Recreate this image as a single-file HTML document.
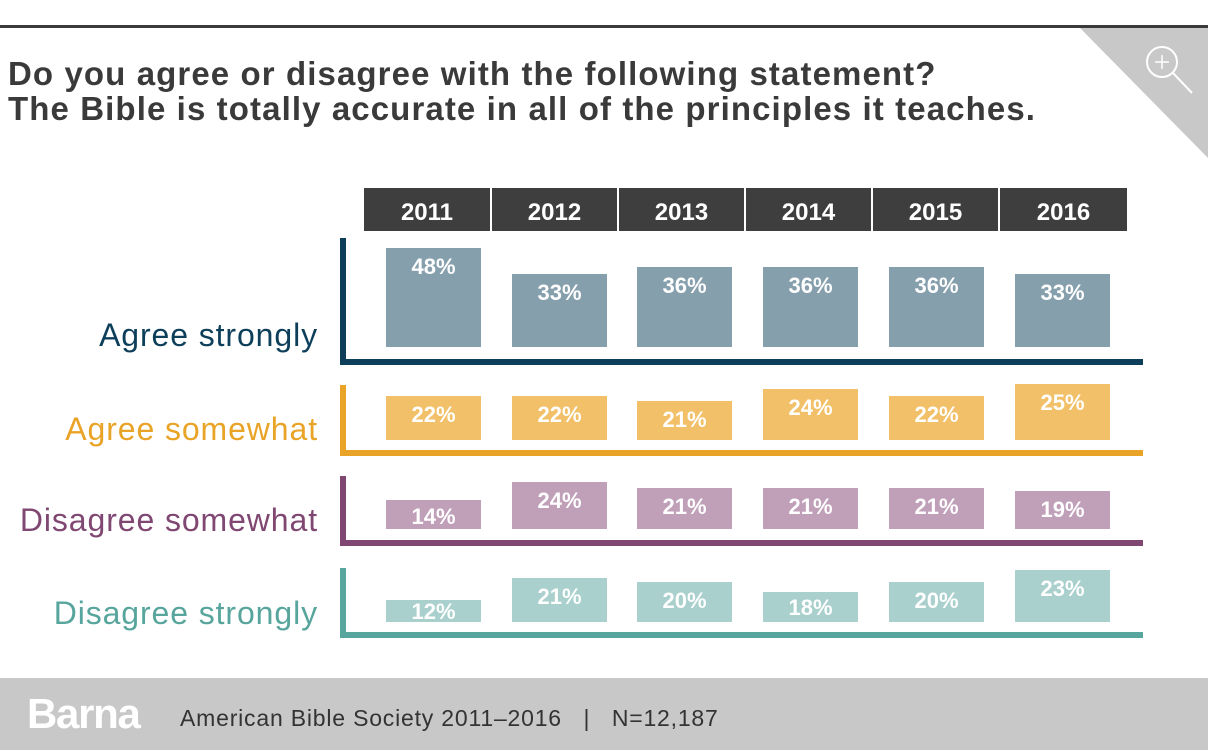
<!DOCTYPE html>
<html><head><meta charset="utf-8"><style>
body{margin:0;width:1208px;height:750px;background:#fff;overflow:hidden;position:relative;font-family:"Liberation Sans",sans-serif}
div{position:absolute}
.t{left:8px;font-size:33px;font-weight:bold;color:#3a3a3a;white-space:nowrap;letter-spacing:1.1px}
.yr{top:188px;height:43px;background:#3e3e3e;color:#fff;font-weight:bold;font-size:24px;text-align:center;line-height:50px}
.b{width:95px;color:#fff;font-weight:bold;font-size:22px;text-align:center;line-height:38px}
.lab{right:890px;font-size:32px;white-space:nowrap;text-align:right;letter-spacing:0.9px}
</style></head><body>
<div style="left:0;top:25px;width:1208px;height:3px;background:#3a3a3a"></div>
<svg style="position:absolute;left:0;top:0" width="1208" height="160"><polygon points="1080,28 1208,28 1208,158" fill="#c8c8c8"/><circle cx="1162" cy="62" r="15" fill="none" stroke="#fff" stroke-width="2"/><line x1="1173" y1="73" x2="1192" y2="93" stroke="#fff" stroke-width="2"/><line x1="1155" y1="62" x2="1169" y2="62" stroke="#fff" stroke-width="1.5"/><line x1="1162" y1="55" x2="1162" y2="69" stroke="#fff" stroke-width="1.5"/></svg>
<div class="t" style="top:55px">Do you agree or disagree with the following statement?</div>
<div class="t" style="top:90px">The Bible is totally accurate in all of the principles it teaches.</div>
<div class="yr" style="left:364px;width:126px">2011</div>
<div class="yr" style="left:492px;width:125px">2012</div>
<div class="yr" style="left:619px;width:125px">2013</div>
<div class="yr" style="left:746px;width:125px">2014</div>
<div class="yr" style="left:873px;width:125px">2015</div>
<div class="yr" style="left:1000px;width:127px">2016</div>

<div style="left:340px;top:238px;width:6px;height:127px;background:#0e3f5a"></div>
<div style="left:340px;top:359px;width:803px;height:6px;background:#0e3f5a"></div>
<div style="left:340px;top:385px;width:6px;height:71px;background:#e9a427"></div>
<div style="left:340px;top:450px;width:803px;height:6px;background:#e9a427"></div>
<div style="left:340px;top:476px;width:6px;height:70px;background:#7f4771"></div>
<div style="left:340px;top:540px;width:803px;height:6px;background:#7f4771"></div>
<div style="left:340px;top:568px;width:6px;height:70px;background:#57a59c"></div>
<div style="left:340px;top:632px;width:803px;height:6px;background:#57a59c"></div>

<div class="lab" style="top:317px;color:#0e3f5a">Agree strongly</div>
<div class="lab" style="top:411px;color:#e9a427">Agree somewhat</div>
<div class="lab" style="top:502px;color:#7f4771">Disagree somewhat</div>
<div class="lab" style="top:595px;color:#57a59c">Disagree strongly</div>

<div class="b" style="background:#869fad;left:386px;top:248px;height:99px">48%</div>
<div class="b" style="background:#869fad;left:512px;top:274px;height:73px">33%</div>
<div class="b" style="background:#869fad;left:637px;top:267px;height:80px">36%</div>
<div class="b" style="background:#869fad;left:763px;top:267px;height:80px">36%</div>
<div class="b" style="background:#869fad;left:889px;top:267px;height:80px">36%</div>
<div class="b" style="background:#869fad;left:1015px;top:274px;height:73px">33%</div>

<div class="b" style="background:#f1c068;left:386px;top:396px;height:44px">22%</div>
<div class="b" style="background:#f1c068;left:512px;top:396px;height:44px">22%</div>
<div class="b" style="background:#f1c068;left:637px;top:401px;height:39px">21%</div>
<div class="b" style="background:#f1c068;left:763px;top:389px;height:51px">24%</div>
<div class="b" style="background:#f1c068;left:889px;top:396px;height:44px">22%</div>
<div class="b" style="background:#f1c068;left:1015px;top:384px;height:56px">25%</div>

<div class="b" style="background:#c09fb8;left:386px;top:500px;height:29px;line-height:34px">14%</div>
<div class="b" style="background:#c09fb8;left:512px;top:482px;height:47px">24%</div>
<div class="b" style="background:#c09fb8;left:637px;top:488px;height:41px">21%</div>
<div class="b" style="background:#c09fb8;left:763px;top:488px;height:41px">21%</div>
<div class="b" style="background:#c09fb8;left:889px;top:488px;height:41px">21%</div>
<div class="b" style="background:#c09fb8;left:1015px;top:491px;height:38px">19%</div>

<div class="b" style="background:#a9d0cd;left:386px;top:600px;height:22px;line-height:24px">12%</div>
<div class="b" style="background:#a9d0cd;left:512px;top:578px;height:44px">21%</div>
<div class="b" style="background:#a9d0cd;left:637px;top:582px;height:40px">20%</div>
<div class="b" style="background:#a9d0cd;left:763px;top:592px;height:30px;line-height:32px">18%</div>
<div class="b" style="background:#a9d0cd;left:889px;top:582px;height:40px">20%</div>
<div class="b" style="background:#a9d0cd;left:1015px;top:570px;height:52px">23%</div>

<div style="left:0;top:678px;width:1208px;height:72px;background:#c8c8c8"></div>
<div style="left:27px;top:690px;font-size:42px;font-weight:bold;color:#fff;letter-spacing:-1.3px">Barna</div>
<div style="left:180px;top:705px;font-size:23px;color:#333;white-space:nowrap;letter-spacing:0.8px">American Bible Society 2011–2016 &nbsp;&nbsp;| &nbsp;&nbsp;N=12,187</div>
</body></html>
